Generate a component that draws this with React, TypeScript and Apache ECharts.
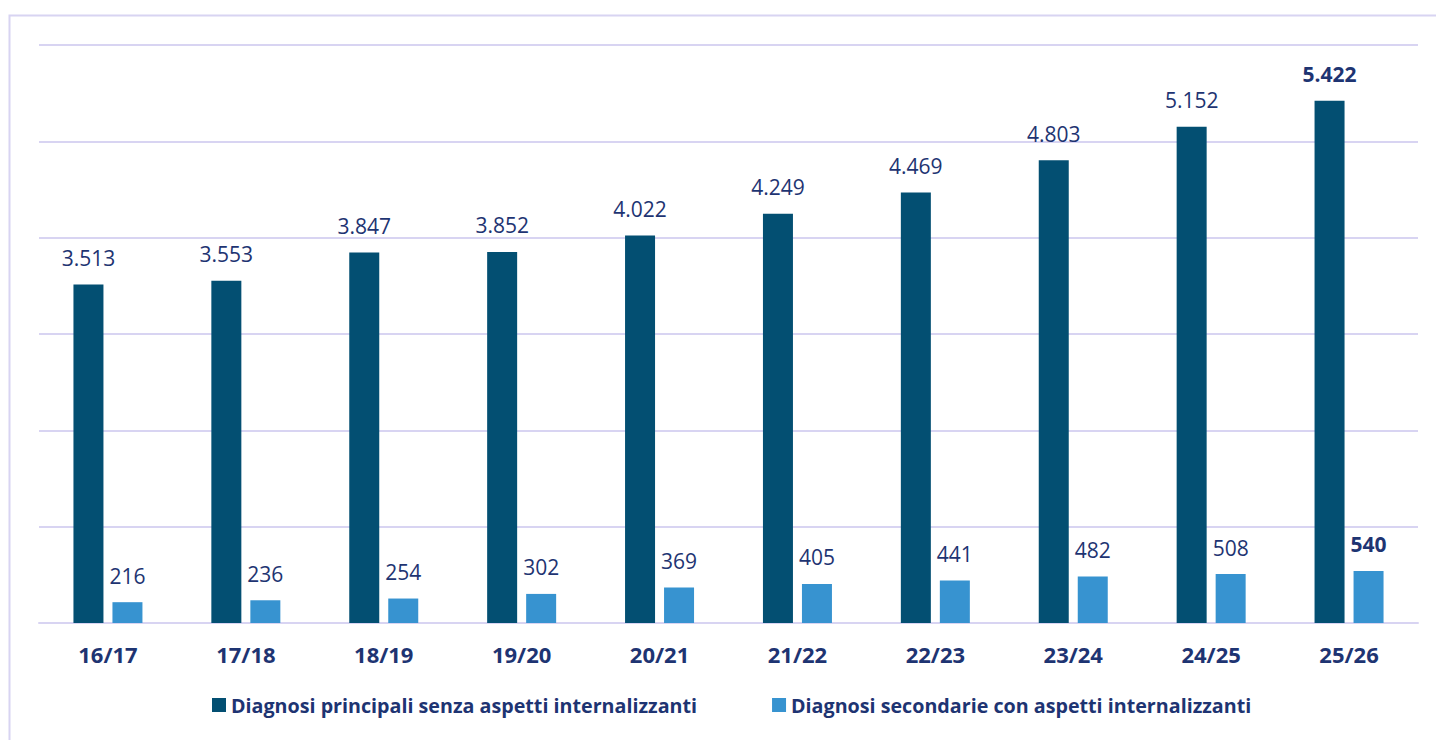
import React, { useEffect, useRef } from "react";
import * as echarts from "echarts";

const categories = ["16/17", "17/18", "18/19", "19/20", "20/21", "21/22", "22/23", "23/24", "24/25", "25/26"];
const principali = [3513, 3553, 3847, 3852, 4022, 4249, 4469, 4803, 5152, 5422];
const secondarie = [216, 236, 254, 302, 369, 405, 441, 482, 508, 540];
const seriesNames = [
  "Diagnosi principali senza aspetti internalizzanti",
  "Diagnosi secondarie con aspetti internalizzanti",
];

const TEXT = "#1e3472";
const DARK = "#034f72";
const LIGHT = "#3793d0";
const LAV = "#d8d4f2";
const FONT = "'Open Sans', sans-serif";

const fmt = (v: number) => v.toLocaleString("de-DE");

function toData(values: number[]) {
  return values.map((v, i) => {
    const last = i === values.length - 1;
    return {
      value: v,
      label: { fontWeight: last ? "bold" : "normal" },
    };
  });
}

export default function App() {
  const ref = useRef<HTMLDivElement>(null);
  useEffect(() => {
    const chart = echarts.init(ref.current!, undefined, { renderer: "svg" });
    const valueLabel = {
      show: true,
      position: "top",
      distance: 16,
      color: TEXT,
      fontSize: 21,
      fontFamily: FONT,
      formatter: (p: any) => fmt(p.value),
    };
    chart.setOption({
      animation: false,
      backgroundColor: "#ffffff",
      textStyle: { fontFamily: FONT },
      graphic: [
        {
          type: "rect",
          shape: { x: 9.5, y: 15.5, width: 1500, height: 800 },
          style: { fill: "none", stroke: LAV, lineWidth: 2 },
          silent: true,
        },
      ],
      grid: { left: 39, right: 18, top: 45, bottom: 117, containLabel: false },
      legend: {
        bottom: 20,
        left: 207,
        itemWidth: 14,
        itemHeight: 14,
        itemGap: 75,
        icon: "rect",
        textStyle: { color: TEXT, fontWeight: "bold", fontSize: 19.7, fontFamily: FONT },
        data: seriesNames,
      },
      xAxis: {
        type: "category",
        data: categories,
        axisLine: { lineStyle: { color: LAV, width: 2 } },
        axisTick: { show: false },
        axisLabel: { color: TEXT, fontWeight: "bold", fontSize: 22, margin: 20, fontFamily: FONT },
      },
      yAxis: {
        type: "value",
        min: 0,
        max: 6000,
        interval: 1000,
        axisLabel: { show: false },
        axisLine: { show: false },
        axisTick: { show: false },
        splitLine: { lineStyle: { color: LAV, width: 2 } },
      },
      series: [
        {
          name: seriesNames[0],
          type: "bar",
          data: toData(principali),
          barWidth: 30,
          barGap: "30%",
          itemStyle: { color: DARK },
          label: valueLabel,
        },
        {
          name: seriesNames[1],
          type: "bar",
          data: toData(secondarie),
          barWidth: 30,
          itemStyle: { color: LIGHT },
          label: valueLabel,
        },
      ],
    });
    return () => chart.dispose();
  }, []);
  return (
    <div
      ref={ref}
      style={{ position: "absolute", left: 0, top: 0, width: 1436, height: 740 }}
    />
  );
}
